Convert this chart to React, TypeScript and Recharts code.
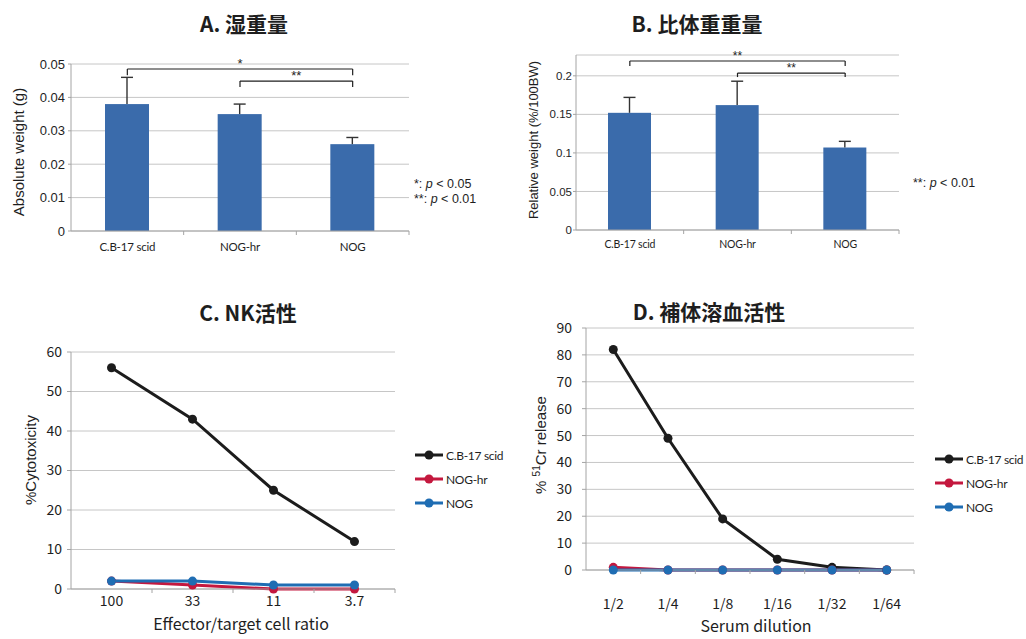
import React from "react";
import {
  BarChart,
  Bar,
  LineChart,
  Line,
  XAxis,
  YAxis,
  CartesianGrid,
  ReferenceLine,
  Legend,
} from "recharts";

// ---- data ----
const strains = ["C.B-17 scid", "NOG-hr", "NOG"];

// A: absolute wet weight (g), mean and +SD
const wetWeight = [0.038, 0.035, 0.026];
const wetWeightSd = [0.008, 0.003, 0.002];

// B: relative weight (%/100BW), mean and +SD
const relWeight = [0.152, 0.162, 0.107];
const relWeightSd = [0.02, 0.031, 0.008];

// C: NK activity, %cytotoxicity per E/T ratio
const etRatios = ["100", "33", "11", "3.7"];
const nkScid = [56, 43, 25, 12];
const nkNogHr = [2, 1, 0, 0];
const nkNog = [2, 2, 1, 1];

// D: complement hemolytic activity, % 51Cr release per serum dilution
const dilutions = ["1/2", "1/4", "1/8", "1/16", "1/32", "1/64"];
const chScid = [82, 49, 19, 4, 1, 0];
const chNogHr = [1, 0, 0, 0, 0, 0];
const chNog = [0, 0, 0, 0, 0, 0];

// significance brackets: from/to are indexes into strains
const wetSig = [
  { from: 0, to: 2, level: 0.0485, drop: 0.0019, mark: "*" },
  { from: 1, to: 2, level: 0.0449, drop: 0.0018, mark: "**" },
];
const relSig = [
  { from: 0, to: 2, level: 0.2192, drop: 0.0065, mark: "**" },
  { from: 1, to: 2, level: 0.2036, drop: 0.0052, mark: "**" },
];

const wetTicks = [0, 0.01, 0.02, 0.03, 0.04, 0.05];
const relTicks = [0, 0.05, 0.1, 0.15, 0.2];
const nkTicks = [0, 10, 20, 30, 40, 50, 60];
const chTicks = [0, 10, 20, 30, 40, 50, 60, 70, 80, 90];

// ---- styles ----
const INK = "#1e1e1e";
const AXIS = "#a4a4a4";
const GRID = "#c6c6c6";
const BAR_BLUE = "#3a6bab";
const LINE_COLORS = ["#1c1c1c", "#c4183e", "#1f6db3"];
const ARIAL = "'Liberation Sans', Arial, sans-serif";
const CALIBRI = "Lato, 'Open Sans', sans-serif";
const GOTHIC = "'Noto Sans CJK JP', 'Noto Sans', sans-serif";

const wetRows = strains.map((s, i) => ({ name: s, value: wetWeight[i], sd: wetWeightSd[i] }));
const relRows = strains.map((s, i) => ({ name: s, value: relWeight[i], sd: relWeightSd[i] }));
const nkRows = etRatios.map((r, i) => ({ ratio: r, scid: nkScid[i], hr: nkNogHr[i], nog: nkNog[i] }));
const chRows = dilutions.map((d, i) => ({ dil: d, scid: chScid[i], hr: chNogHr[i], nog: chNog[i] }));

// bar plus an upward-only SD whisker, scaled from the bar's own geometry
const BarWithSd = (props: any) => {
  const { x, y, width, height, payload, value } = props;
  const v = Array.isArray(value) ? value[1] - value[0] : value;
  const perUnit = v ? height / v : 0;
  const top = y - payload.sd * perUnit;
  const cx = x + width / 2;
  return (
    <g>
      <rect x={x} y={y} width={width} height={height} fill={BAR_BLUE} />
      <line x1={cx} x2={cx} y1={y} y2={top} stroke="#333" strokeWidth={1.4} />
      <line x1={cx - 6} x2={cx + 6} y1={top} y2={top} stroke="#333" strokeWidth={1.4} />
    </g>
  );
};

// category label with Excel-style tick marks between categories
const BandTick = (props: any) => {
  const { x, y, payload, width, visibleTicksCount, gap, fontSize, fontFamily, spacing = 0 } = props;
  const half = width / visibleTicksCount / 2;
  const axisY = y - gap;
  return (
    <g>
      <line x1={x + half} x2={x + half} y1={axisY} y2={axisY + 4} stroke={AXIS} />
      <text
        x={x}
        y={y}
        dy="0.71em"
        textAnchor="middle"
        fontSize={fontSize}
        fontFamily={fontFamily}
        letterSpacing={spacing}
        fill={INK}
      >
        {payload.value}
      </text>
    </g>
  );
};

const bracketLines = (sig: typeof wetSig, prefix: string, fontSize: number) =>
  sig.flatMap((b, i) => {
    const a = strains[b.from];
    const c = strains[b.to];
    return [
      <ReferenceLine
        key={`${prefix}-h${i}`}
        segment={[{ x: a, y: b.level }, { x: c, y: b.level }]}
        stroke={INK}
        strokeWidth={1.2}
        label={{ value: b.mark, position: "top", offset: 1, fontSize, fill: INK, fontFamily: ARIAL }}
      />,
      <ReferenceLine
        key={`${prefix}-l${i}`}
        segment={[{ x: a, y: b.level }, { x: a, y: b.level - b.drop }]}
        stroke={INK}
        strokeWidth={1.2}
      />,
      <ReferenceLine
        key={`${prefix}-r${i}`}
        segment={[{ x: c, y: b.level }, { x: c, y: b.level - b.drop }]}
        stroke={INK}
        strokeWidth={1.2}
      />,
    ];
  });

// legend rows kept in series order
const SeriesLegend = ({ payload }: any) => {
  const items = [...(payload || [])].sort(
    (p: any, q: any) => strains.indexOf(p.value) - strains.indexOf(q.value)
  );
  return (
    <div>
      {items.map((p: any) => (
        <div key={p.value} style={{ height: 24, display: "flex", alignItems: "center", whiteSpace: "nowrap" }}>
          <svg width={29} height={10}>
            <line x1={0} x2={28} y1={5} y2={5} stroke={p.color} strokeWidth={3} />
            <circle cx={14} cy={5} r={4.5} fill={p.color} />
          </svg>
          <span style={{ marginLeft: 2, fontFamily: CALIBRI, fontSize: 12, letterSpacing: -0.3, color: INK }}>
            {p.value}
          </span>
        </div>
      ))}
    </div>
  );
};

const Txt = ({ cx, cy, rotate = 0, left = false, style, children }: any) => (
  <div
    style={{
      position: "absolute",
      left: cx,
      top: cy,
      transform: `translate(${left ? "0" : "-50%"}, -50%) rotate(${rotate}deg)`,
      whiteSpace: "nowrap",
      lineHeight: 1,
      color: INK,
      ...style,
    }}
  >
    {children}
  </div>
);

const titleStyle = { fontFamily: GOTHIC, fontWeight: 700, fontSize: 21 };

const lineSeries = (names: string[]) =>
  ["scid", "hr", "nog"].map((k, i) => (
    <Line
      key={k}
      dataKey={k}
      name={names[i]}
      type="linear"
      stroke={LINE_COLORS[i]}
      strokeWidth={3}
      dot={{ r: 4.5, fill: LINE_COLORS[i], stroke: LINE_COLORS[i], strokeWidth: 0 }}
      activeDot={false}
      isAnimationActive={false}
    />
  ));

export default function App() {
  return (
    <div style={{ position: "absolute", left: 0, top: 0, width: 1026, height: 639, background: "#fff", overflow: "hidden" }}>
      {/* A. wet weight */}
      <div style={{ position: "absolute", left: 0, top: 0 }}>
        <BarChart width={510} height={280} data={wetRows} margin={{ top: 64, right: 101, bottom: 19, left: 0 }}>
          <CartesianGrid vertical={false} stroke={GRID} />
          <XAxis
            dataKey="name"
            stroke={AXIS}
            height={30}
            tickSize={0}
            tickMargin={12}
            tickLine={false}
            tick={<BandTick gap={12} fontSize={11.5} spacing={-0.2} fontFamily={CALIBRI} />}
            interval={0}
          />
          <YAxis
            width={71}
            domain={[0, 0.05]}
            ticks={wetTicks}
            stroke={AXIS}
            tickSize={3}
            tickMargin={3}
            tick={{ fill: INK, fontSize: 13, fontFamily: ARIAL }}
          />
          <Bar dataKey="value" barSize={44} shape={<BarWithSd />} isAnimationActive={false} />
          {bracketLines(wetSig, "a", 13)}
        </BarChart>
      </div>

      {/* B. relative weight */}
      <div style={{ position: "absolute", left: 510, top: 0 }}>
        <BarChart width={516} height={280} data={relRows} margin={{ top: 55, right: 127, bottom: 20, left: 0 }}>
          <CartesianGrid vertical={false} stroke={GRID} />
          <XAxis
            dataKey="name"
            stroke={AXIS}
            height={30}
            tickSize={0}
            tickMargin={11}
            tickLine={false}
            tick={<BandTick gap={11} fontSize={10.5} spacing={-0.2} fontFamily={CALIBRI} />}
            interval={0}
          />
          <YAxis
            width={66}
            domain={[0, 0.227]}
            ticks={relTicks}
            stroke={AXIS}
            tickSize={3}
            tickMargin={1}
            tick={{ fill: INK, fontSize: 11.5, fontFamily: ARIAL }}
          />
          <Bar dataKey="value" barSize={43} shape={<BarWithSd />} isAnimationActive={false} />
          {bracketLines(relSig, "b", 12)}
        </BarChart>
      </div>

      {/* C. NK activity */}
      <div style={{ position: "absolute", left: 0, top: 290 }}>
        <LineChart width={510} height={349} data={nkRows} margin={{ top: 62, right: 115, bottom: 0, left: 0 }}>
          <CartesianGrid vertical={false} stroke={GRID} />
          <XAxis
            dataKey="ratio"
            stroke={AXIS}
            height={50}
            padding={{ left: 40.5, right: 40.5 }}
            tickSize={0}
            tickMargin={7}
            tickLine={false}
            tick={<BandTick gap={7} fontSize={14} fontFamily={GOTHIC} />}
            interval={0}
          />
          <YAxis
            width={71}
            domain={[0, 60]}
            ticks={nkTicks}
            stroke={AXIS}
            tickSize={4}
            tickMargin={5}
            tick={{ fill: INK, fontSize: 14, fontFamily: GOTHIC }}
          />
          <Legend
            layout="vertical"
            verticalAlign="middle"
            align="center"
            wrapperStyle={{ left: 415, top: 153, width: 95 }}
            content={<SeriesLegend />}
          />
          {lineSeries(strains)}
        </LineChart>
      </div>

      {/* D. complement hemolytic activity */}
      <div style={{ position: "absolute", left: 510, top: 290 }}>
        <LineChart width={516} height={349} data={chRows} margin={{ top: 38, right: 112, bottom: 0, left: 0 }}>
          <CartesianGrid vertical={false} stroke={GRID} />
          <XAxis
            dataKey="dil"
            stroke={AXIS}
            height={69}
            padding={{ left: 27.3, right: 27.3 }}
            tickSize={0}
            tickMargin={29}
            tickLine={false}
            tick={<BandTick gap={29} fontSize={14} fontFamily={GOTHIC} />}
            interval={0}
          />
          <YAxis
            width={76}
            domain={[0, 90]}
            ticks={chTicks}
            stroke={AXIS}
            tickSize={4}
            tickMargin={10}
            tick={{ fill: INK, fontSize: 14, fontFamily: GOTHIC }}
          />
          <Legend
            layout="vertical"
            verticalAlign="middle"
            align="center"
            wrapperStyle={{ left: 425, top: 157, width: 90 }}
            content={<SeriesLegend />}
          />
          {lineSeries(strains)}
        </LineChart>
      </div>

      {/* titles */}
      <Txt cx={244} cy={23} style={titleStyle}>A. 湿重量</Txt>
      <Txt cx={697} cy={23} style={titleStyle}>B. 比体重重量</Txt>
      <Txt cx={248} cy={312} style={titleStyle}>C. NK活性</Txt>
      <Txt cx={709} cy={311} style={titleStyle}>D. 補体溶血活性</Txt>

      {/* axis titles */}
      <Txt cx={18} cy={152} rotate={-90} style={{ fontFamily: ARIAL, fontSize: 15 }}>Absolute weight (g)</Txt>
      <Txt cx={533} cy={140} rotate={-90} style={{ fontFamily: ARIAL, fontSize: 13 }}>Relative weight (%/100BW)</Txt>
      <Txt cx={30} cy={460} rotate={-90} style={{ fontFamily: ARIAL, fontSize: 15 }}>%Cytotoxicity</Txt>
      <Txt cx={540} cy={445} rotate={-90} style={{ fontFamily: ARIAL, fontSize: 15 }}>
        % <sup style={{ fontSize: 10 }}>51</sup>Cr release
      </Txt>
      <Txt cx={241} cy={623} style={{ fontFamily: GOTHIC, fontSize: 16 }}>Effector/target cell ratio</Txt>
      <Txt cx={756} cy={625} style={{ fontFamily: GOTHIC, fontSize: 16 }}>Serum dilution</Txt>

      {/* significance notes */}
      <Txt cx={414} cy={184} left style={{ fontFamily: ARIAL, fontSize: 12.5 }}>
        *: <i>p</i> &lt; 0.05
      </Txt>
      <Txt cx={414} cy={199} left style={{ fontFamily: ARIAL, fontSize: 12.5 }}>
        **: <i>p</i> &lt; 0.01
      </Txt>
      <Txt cx={913} cy={183} left style={{ fontFamily: ARIAL, fontSize: 12.5 }}>
        **: <i>p</i> &lt; 0.01
      </Txt>
    </div>
  );
}
